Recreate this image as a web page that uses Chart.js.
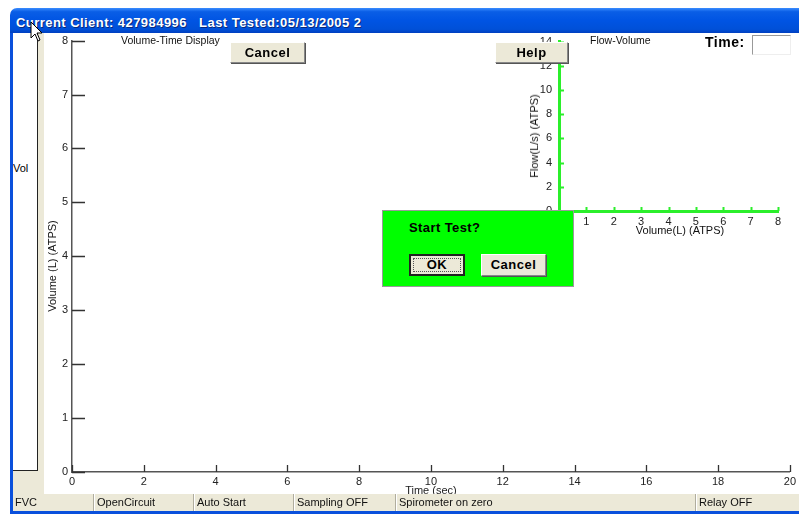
<!DOCTYPE html>
<html><head><meta charset="utf-8">
<script src="https://cdn.jsdelivr.net/npm/chart.js@4.4.0/dist/chart.umd.min.js"></script>
<style>
html,body{margin:0;padding:0;background:#fff;width:799px;height:514px;overflow:hidden;font-family:"Liberation Sans",Arial,sans-serif;}
.abs{position:absolute;}
#titlebar{left:10px;top:8px;width:800px;height:25px;border-radius:7px 0 0 0;background:linear-gradient(#3a8cff 0%,#0a5ee6 15%,#0054e3 50%,#0050d8 85%,#003fc0 100%);}
#titletext{left:16px;top:15px;color:#fff;font-weight:bold;font-size:13px;letter-spacing:0.45px;white-space:nowrap;text-shadow:1px 1px 0 #0a2a7a;}
#lborder{left:10px;top:33px;width:3px;height:481px;background:#0a50dc;}
#bborder{left:10px;top:511px;width:800px;height:3px;background:#0a50dc;}
#lpanel{left:13px;top:33px;width:31px;height:461px;background:#ece9d8;}
#lbox{left:13px;top:33px;width:24px;height:437px;background:#fff;border-right:1px solid #222;border-bottom:1px solid #222;}
#vol{left:13px;top:162px;font-size:11px;}
.btn{position:absolute;background:#ece9d8;border-top:1px solid #fff;border-left:1px solid #fff;border-right:1px solid #888;border-bottom:1px solid #888;box-shadow:1px 1px 0 #555;font-weight:bold;font-size:13px;text-align:center;letter-spacing:0.5px;box-sizing:border-box;}
.lbl{position:absolute;font-size:10.5px;color:#111;white-space:nowrap;}
#status{left:13px;top:494px;width:786px;height:17px;background:#ece9d8;font-size:11px;}
.sp{position:absolute;top:0;height:17px;line-height:17px;border-left:1px solid #fff;box-shadow:-1px 0 0 #b0ad9e;padding-left:2px;white-space:nowrap;color:#111;}
#dialog{left:382px;top:210px;width:192px;height:77px;background:#00ff00;border:1px solid #999;box-sizing:border-box;}
</style></head>
<body>
<div id="titlebar" class="abs"></div>
<div id="titletext" class="abs">Current Client: 427984996&nbsp;&nbsp; Last Tested:05/13/2005 2</div>
<div id="lpanel" class="abs"></div>
<div id="lbox" class="abs"></div>
<div id="vol" class="abs">Vol</div>
<div id="lborder" class="abs"></div>

<canvas id="vt" class="abs" style="left:44px;top:30px;width:755px;height:468px;"></canvas>
<canvas id="fv" class="abs" style="left:500px;top:28px;width:299px;height:205px;"></canvas>

<div class="lbl" style="left:121px;top:34px;">Volume-Time Display</div>
<div class="lbl" style="left:590px;top:34px;">Flow-Volume</div>
<div class="lbl" id="vtY" style="left:52px;top:266px;transform:translate(-50%,-50%) rotate(-90deg);font-size:11px;"></div>
<div class="lbl" id="fvY" style="left:534px;top:136px;transform:translate(-50%,-50%) rotate(-90deg);font-size:11px;"></div>
<div class="lbl" id="fvX" style="left:680px;top:230px;transform:translate(-50%,-50%);font-size:11px;"></div>

<div class="btn" style="left:230px;top:42px;width:75px;height:21px;line-height:19px;">Cancel</div>
<div class="btn" style="left:495px;top:42px;width:73px;height:21px;line-height:19px;">Help</div>
<div class="abs" style="left:705px;top:34px;font-weight:bold;font-size:14px;letter-spacing:0.5px;">Time:</div>
<div class="abs" style="left:752px;top:35px;width:39px;height:20px;background:#fff;border-top:1px solid #999;border-left:1px solid #999;border-right:1px solid #eee;border-bottom:1px solid #eee;box-sizing:border-box;"></div>

<div id="dialog" class="abs">
  <div class="abs" style="left:26px;top:9px;font-weight:bold;font-size:13px;letter-spacing:0.4px;">Start Test?</div>
  <div class="btn" style="left:26px;top:43px;width:56px;height:22px;line-height:18px;border:2px solid #222;box-shadow:none;"><div style="position:absolute;left:2px;top:2px;right:2px;bottom:2px;border:1px dotted #555;"></div>OK</div>
  <div class="btn" style="left:98px;top:43px;width:65px;height:22px;line-height:20px;">Cancel</div>
</div>

<div id="status" class="abs">
  <div class="sp" style="left:0;border-left:none;box-shadow:none;">FVC</div>
  <div class="sp" style="left:81px;">OpenCircuit</div>
  <div class="sp" style="left:181px;">Auto Start</div>
  <div class="sp" style="left:281px;">Sampling OFF</div>
  <div class="sp" style="left:383px;">Spirometer on zero</div>
  <div class="sp" style="left:683px;">Relay OFF</div>
</div>
<div id="bborder" class="abs"></div>

<svg class="abs" style="left:30px;top:21px;" width="14" height="22" viewBox="0 0 14 22"><path d="M1 1 L1 17 L5 13 L8 20 L10 19 L7 12 L12 12 Z" fill="#fff" stroke="#000" stroke-width="1"/></svg>

<script>
// ---- data ----
const volumeTimeTitleX = "Time (sec)";
const volumeTimeTitleY = "Volume (L) (ATPS)";
const flowVolumeTitleX = "Volume(L) (ATPS)";
const flowVolumeTitleY = "Flow(L/s) (ATPS)";
const timeTicks = [0, 2, 4, 6, 8, 10, 12, 14, 16, 18, 20];
const volumeTicks = [0, 1, 2, 3, 4, 5, 6, 7, 8];
const fvVolumeTicks = [0, 1, 2, 3, 4, 5, 6, 7, 8];
const fvFlowTicks = [0, 2, 4, 6, 8, 10, 12, 14];
const volumeTimeData = [];   // no curve recorded yet
const flowVolumeData = [];   // no curve recorded yet

document.getElementById('vtY').textContent = volumeTimeTitleY;
document.getElementById('fvY').textContent = flowVolumeTitleY;
document.getElementById('fvX').textContent = flowVolumeTitleX;

const FONT = {family: '"Liberation Sans", Arial, sans-serif', size: 11};

function inwardTicks(opts) {
  return {
    id: 'inwardTicks',
    afterDraw(chart) {
      const ctx = chart.ctx, a = chart.chartArea;
      const xs = chart.scales.x, ys = chart.scales.y;
      ctx.save();
      ctx.strokeStyle = opts.color; ctx.lineWidth = opts.width;
      ctx.beginPath();
      opts.xTicks.forEach(v => { const px = Math.round(xs.getPixelForValue(v)) + 0.5;
        ctx.moveTo(px, a.bottom); ctx.lineTo(px, a.bottom - opts.xLen); });
      opts.yTicks.forEach(v => { const py = Math.round(ys.getPixelForValue(v)) + 0.5;
        ctx.moveTo(a.left, py); ctx.lineTo(a.left + opts.yLen, py); });
      ctx.stroke();
      ctx.restore();
    }
  };
}

function fixedTicks(list) {
  return function(scale) { scale.ticks = list.map(v => ({value: v})); };
}

new Chart(document.getElementById('vt'), {
  type: 'scatter',
  data: { datasets: [{ data: volumeTimeData, showLine: true, borderColor: '#000', pointRadius: 0 }] },
  options: {
    responsive: false, animation: false, devicePixelRatio: 1,
    layout: { padding: { top: 7, right: 9, left: 0, bottom: 0 } },
    plugins: { legend: { display: false }, tooltip: { enabled: false } },
    scales: {
      x: { type: 'linear', min: 0, max: 20,
        afterBuildTicks: fixedTicks(timeTicks),
        afterFit(s) { s.height = 26; },
        grid: { display: false, drawTicks: false },
        border: { display: true, color: '#555', width: 1.5 },
        ticks: { font: FONT, color: '#222', padding: 3, maxRotation: 0, autoSkip: false },
        title: { display: true, text: volumeTimeTitleX, font: FONT, color: '#222', padding: { top: 2, bottom: 0 } } },
      y: { type: 'linear', min: 0, max: 8,
        afterBuildTicks: fixedTicks(volumeTicks),
        afterFit(s) { s.width = 28; },
        grid: { display: false, drawTicks: false },
        border: { display: true, color: '#555', width: 1.5 },
        ticks: { font: FONT, color: '#222', padding: 4, autoSkip: false } }
    }
  },
  plugins: [inwardTicks({ color: '#333', width: 1.3, xLen: 7, yLen: 13, xTicks: timeTicks, yTicks: volumeTicks })]
});

new Chart(document.getElementById('fv'), {
  type: 'scatter',
  data: { datasets: [{ data: flowVolumeData, showLine: true, borderColor: '#000', pointRadius: 0 }] },
  options: {
    responsive: false, animation: false, devicePixelRatio: 1,
    layout: { padding: { top: 7, right: 21, left: 0, bottom: 0 } },
    plugins: { legend: { display: false }, tooltip: { enabled: false } },
    scales: {
      x: { type: 'linear', min: 0, max: 8,
        afterBuildTicks: fixedTicks(fvVolumeTicks),
        afterFit(s) { s.height = 22; },
        grid: { display: false, drawTicks: false },
        border: { display: true, color: '#2bef2b', width: 3 },
        ticks: { font: FONT, color: '#222', padding: 4, maxRotation: 0, autoSkip: false } },
      y: { type: 'linear', min: 0, max: 14,
        afterBuildTicks: fixedTicks(fvFlowTicks),
        afterFit(s) { s.width = 59; },
        grid: { display: false, drawTicks: false },
        border: { display: true, color: '#2bef2b', width: 3 },
        ticks: { font: FONT, color: '#222', padding: 7, autoSkip: false } }
    }
  },
  plugins: [inwardTicks({ color: '#2bef2b', width: 2, xLen: 4, yLen: 5, xTicks: fvVolumeTicks.slice(1), yTicks: fvFlowTicks })]
});
</script>
</body></html>
